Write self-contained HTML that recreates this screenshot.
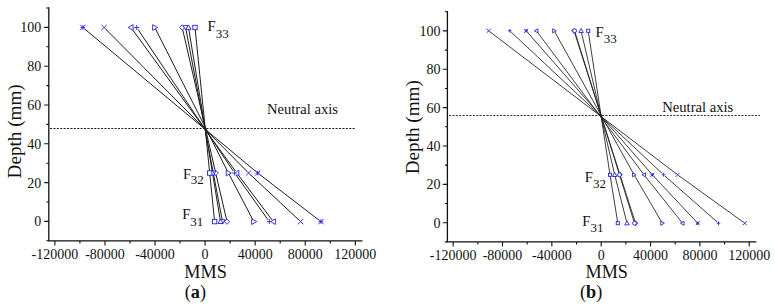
<!DOCTYPE html>
<html><head><meta charset="utf-8"><title>MMS vs Depth</title><style>
html,body{margin:0;padding:0;background:#fff;}
svg{display:block;}
text{font-family:"Liberation Serif",serif;fill:#111;}
.ax{fill:none;stroke:#111;stroke-width:1.3;stroke-linecap:square;}
.tk{fill:none;stroke:#111;stroke-width:1.1;}
.tl{font-size:15px;}
.dl{fill:none;stroke:#1e1e1e;stroke-width:1.0;stroke-linejoin:round;}
.dlb{stroke-width:0.85;}
.m{fill:#fff;stroke:#2323dc;stroke-width:0.9;}
.mb{fill:#fff;}
.ms{stroke-width:0.9;}
.dash{fill:none;stroke:#222;stroke-width:1;stroke-dasharray:2.1 1.3;}
.db{stroke:#333;stroke-width:1;}
.fl{font-size:14.6px;}
.fs{font-size:13px;}
.na{font-size:14.6px;}
.ti{font-size:18.2px;}
.yt{font-size:19.15px;}
</style></head>
<body><svg width="775" height="308" viewBox="0 0 775 308">
<rect width="775" height="308" fill="#fff"/>
<path d="M48.8 7.9V240.9H361.8" class="ax"/>
<path d="M48.8 240.8H46.3M48.8 221.4H44.2M48.8 202H46.3M48.8 182.6H44.2M48.8 163.2H46.3M48.8 143.8H44.2M48.8 124.4H46.3M48.8 105H44.2M48.8 85.6H46.3M48.8 66.2H44.2M48.8 46.8H46.3M48.8 27.4H44.2M48.8 8H46.3M54.89 240.9V245.4M79.92 240.9V243.6M104.96 240.9V245.4M130 240.9V243.6M155.03 240.9V245.4M180.06 240.9V243.6M205.1 240.9V245.4M230.13 240.9V243.6M255.17 240.9V245.4M280.2 240.9V243.6M305.24 240.9V245.4M330.27 240.9V243.6M355.31 240.9V245.4" class="tk"/>
<text x="41.2" y="226.3" class="tl" text-anchor="end" textLength="7" lengthAdjust="spacingAndGlyphs">0</text>
<text x="41.2" y="187.5" class="tl" text-anchor="end" textLength="14" lengthAdjust="spacingAndGlyphs">20</text>
<text x="41.2" y="148.7" class="tl" text-anchor="end" textLength="14" lengthAdjust="spacingAndGlyphs">40</text>
<text x="41.2" y="109.9" class="tl" text-anchor="end" textLength="14" lengthAdjust="spacingAndGlyphs">60</text>
<text x="41.2" y="71.1" class="tl" text-anchor="end" textLength="14" lengthAdjust="spacingAndGlyphs">80</text>
<text x="41.2" y="32.3" class="tl" text-anchor="end" textLength="21" lengthAdjust="spacingAndGlyphs">100</text>
<text x="54.89" y="259" class="tl" text-anchor="middle" textLength="46.6" lengthAdjust="spacingAndGlyphs">-120000</text>
<text x="104.96" y="259" class="tl" text-anchor="middle" textLength="39.6" lengthAdjust="spacingAndGlyphs">-80000</text>
<text x="155.03" y="259" class="tl" text-anchor="middle" textLength="39.6" lengthAdjust="spacingAndGlyphs">-40000</text>
<text x="205.1" y="259" class="tl" text-anchor="middle" textLength="7" lengthAdjust="spacingAndGlyphs">0</text>
<text x="255.17" y="259" class="tl" text-anchor="middle" textLength="35" lengthAdjust="spacingAndGlyphs">40000</text>
<text x="305.24" y="259" class="tl" text-anchor="middle" textLength="35" lengthAdjust="spacingAndGlyphs">80000</text>
<text x="355.31" y="259" class="tl" text-anchor="middle" textLength="42" lengthAdjust="spacingAndGlyphs">120000</text>
<path d="M447.4 11.7V241.9H755.7" class="ax"/>
<path d="M447.4 241.88H444.9M447.4 222.7H442.8M447.4 203.52H444.9M447.4 184.34H442.8M447.4 165.16H444.9M447.4 145.98H442.8M447.4 126.8H444.9M447.4 107.62H442.8M447.4 88.44H444.9M447.4 69.26H442.8M447.4 50.08H444.9M447.4 30.9H442.8M447.4 11.72H444.9M453.15 241.9V246.4M477.83 241.9V244.6M502.5 241.9V246.4M527.18 241.9V244.6M551.85 241.9V246.4M576.53 241.9V244.6M601.2 241.9V246.4M625.88 241.9V244.6M650.55 241.9V246.4M675.23 241.9V244.6M699.9 241.9V246.4M724.58 241.9V244.6M749.25 241.9V246.4" class="tk"/>
<text x="440.6" y="227.6" class="tl" text-anchor="end" textLength="7" lengthAdjust="spacingAndGlyphs">0</text>
<text x="440.6" y="189.24" class="tl" text-anchor="end" textLength="14" lengthAdjust="spacingAndGlyphs">20</text>
<text x="440.6" y="150.88" class="tl" text-anchor="end" textLength="14" lengthAdjust="spacingAndGlyphs">40</text>
<text x="440.6" y="112.52" class="tl" text-anchor="end" textLength="14" lengthAdjust="spacingAndGlyphs">60</text>
<text x="440.6" y="74.16" class="tl" text-anchor="end" textLength="14" lengthAdjust="spacingAndGlyphs">80</text>
<text x="440.6" y="35.8" class="tl" text-anchor="end" textLength="21" lengthAdjust="spacingAndGlyphs">100</text>
<text x="453.15" y="260" class="tl" text-anchor="middle" textLength="46.6" lengthAdjust="spacingAndGlyphs">-120000</text>
<text x="502.5" y="260" class="tl" text-anchor="middle" textLength="39.6" lengthAdjust="spacingAndGlyphs">-80000</text>
<text x="551.85" y="260" class="tl" text-anchor="middle" textLength="39.6" lengthAdjust="spacingAndGlyphs">-40000</text>
<text x="601.2" y="260" class="tl" text-anchor="middle" textLength="7" lengthAdjust="spacingAndGlyphs">0</text>
<text x="650.55" y="260" class="tl" text-anchor="middle" textLength="35" lengthAdjust="spacingAndGlyphs">40000</text>
<text x="699.9" y="260" class="tl" text-anchor="middle" textLength="35" lengthAdjust="spacingAndGlyphs">80000</text>
<text x="749.25" y="260" class="tl" text-anchor="middle" textLength="42" lengthAdjust="spacingAndGlyphs">120000</text>
<path d="M50 128.5H355.2" class="dash"/>
<path d="M449 115.5H760" class="dash db"/>
<path d="M82.9 27.5L257.7 173L320.9 221.6M104.1 27.5L248.6 173L300.6 221.6M131 27.5L236.8 173L273.3 221.6M136.7 27.5L234.6 173L269.3 221.6M154.8 27.5L228.4 173L253.8 221.6M182.2 27.5L215.7 173L227 221.6M185.6 27.5L213.3 173L222.5 221.6M188.5 27.5L212.5 173L220.5 221.6M195 27.5L209.7 173L214.6 221.6" class="dl"/>
<path d="M488.7 30.8L677.6 174.8L744.7 223.2M509.8 30.8L663.6 174.8L718.5 223.2M526.2 30.8L652.3 174.8L697.7 223.2M536.4 30.8L644 174.8L682.5 223.2M554.2 30.8L634.1 174.8L662.3 223.2M574 30.8L620 174.8L635.5 223.2M574.6 30.8L619.5 174.8L634.5 223.2M581.1 30.8L614.7 174.8L627 223.2M588.2 30.8L610 174.8L617.8 223.2" class="dl dlb"/>
<rect x="80.62" y="25.22" width="4.56" height="4.56" class="mb"/><path d="M80.62 27.5H85.18M82.9 25.22V29.78M80.19 24.79L85.61 30.21M80.19 30.21L85.61 24.79" class="m ms"/>
<rect x="255.42" y="170.72" width="4.56" height="4.56" class="mb"/><path d="M255.42 173H259.98M257.7 170.72V175.28M254.99 170.29L260.41 175.71M254.99 175.71L260.41 170.29" class="m ms"/>
<rect x="318.62" y="219.32" width="4.56" height="4.56" class="mb"/><path d="M318.62 221.6H323.18M320.9 219.32V223.88M318.19 218.89L323.61 224.31M318.19 224.31L323.61 218.89" class="m ms"/>
<rect x="101.94" y="25.34" width="4.32" height="4.32" class="mb"/><path d="M101.4 24.8L106.8 30.2M101.4 30.2L106.8 24.8" class="m"/>
<rect x="246.44" y="170.84" width="4.32" height="4.32" class="mb"/><path d="M245.9 170.3L251.3 175.7M245.9 175.7L251.3 170.3" class="m"/>
<rect x="298.44" y="219.44" width="4.32" height="4.32" class="mb"/><path d="M297.9 218.9L303.3 224.3M297.9 224.3L303.3 218.9" class="m"/>
<path d="M128.2 27.5L133.1 24.7L133.1 30.3Z" class="m"/>
<path d="M234 173L238.9 170.2L238.9 175.8Z" class="m"/>
<path d="M270.5 221.6L275.4 218.8L275.4 224.4Z" class="m"/>
<rect x="134.74" y="25.54" width="3.92" height="3.92" class="mb"/><path d="M134.25 27.5H139.15M136.7 25.05V29.95" class="m"/>
<rect x="232.64" y="171.04" width="3.92" height="3.92" class="mb"/><path d="M232.15 173H237.05M234.6 170.55V175.45" class="m"/>
<rect x="267.34" y="219.64" width="3.92" height="3.92" class="mb"/><path d="M266.85 221.6H271.75M269.3 219.15V224.05" class="m"/>
<path d="M157.65 27.5L152.66 24.65L152.66 30.35Z" class="m"/>
<path d="M231.25 173L226.26 170.15L226.26 175.85Z" class="m"/>
<path d="M256.65 221.6L251.66 218.75L251.66 224.45Z" class="m"/>
<path d="M182.2 24.8L184.9 27.5L182.2 30.2L179.5 27.5Z" class="m"/>
<path d="M215.7 170.3L218.4 173L215.7 175.7L213 173Z" class="m"/>
<path d="M227 218.9L229.7 221.6L227 224.3L224.3 221.6Z" class="m"/>
<path d="M185.6 30.05L188.15 25.59L183.05 25.59Z" class="m"/>
<path d="M213.3 175.55L215.85 171.09L210.75 171.09Z" class="m"/>
<path d="M222.5 224.15L225.05 219.69L219.95 219.69Z" class="m"/>
<path d="M188.5 24.95L191.05 29.41L185.95 29.41Z" class="m"/>
<path d="M212.5 170.45L215.05 174.91L209.95 174.91Z" class="m"/>
<path d="M220.5 219.05L223.05 223.51L217.95 223.51Z" class="m"/>
<rect x="192.8" y="25.3" width="4.4" height="4.4" class="m"/>
<rect x="207.5" y="170.8" width="4.4" height="4.4" class="m"/>
<rect x="212.4" y="219.4" width="4.4" height="4.4" class="m"/>
<rect x="487.06" y="29.16" width="3.28" height="3.28" class="mb"/><path d="M486.65 28.75L490.75 32.85M486.65 32.85L490.75 28.75" class="m"/>
<rect x="675.96" y="173.16" width="3.28" height="3.28" class="mb"/><path d="M675.55 172.75L679.65 176.85M675.55 176.85L679.65 172.75" class="m"/>
<rect x="743.06" y="221.56" width="3.28" height="3.28" class="mb"/><path d="M742.65 221.15L746.75 225.25M742.65 225.25L746.75 221.15" class="m"/>
<rect x="508.32" y="29.32" width="2.96" height="2.96" class="mb"/><path d="M507.95 30.8H511.65M509.8 28.95V32.65" class="m"/>
<rect x="662.12" y="173.32" width="2.96" height="2.96" class="mb"/><path d="M661.75 174.8H665.45M663.6 172.95V176.65" class="m"/>
<rect x="717.02" y="221.72" width="2.96" height="2.96" class="mb"/><path d="M716.65 223.2H720.35M718.5 221.35V225.05" class="m"/>
<rect x="524.52" y="29.12" width="3.36" height="3.36" class="mb"/><path d="M524.52 30.8H527.88M526.2 29.12V32.48M524.21 28.8L528.2 32.8M524.21 32.8L528.2 28.8" class="m ms"/>
<rect x="650.62" y="173.12" width="3.36" height="3.36" class="mb"/><path d="M650.62 174.8H653.98M652.3 173.12V176.48M650.3 172.81L654.29 176.8M650.3 176.8L654.29 172.81" class="m ms"/>
<rect x="696.02" y="221.52" width="3.36" height="3.36" class="mb"/><path d="M696.02 223.2H699.38M697.7 221.52V224.88M695.71 221.2L699.7 225.19M695.71 225.19L699.7 221.2" class="m ms"/>
<path d="M534.35 30.8L537.94 28.75L537.94 32.85Z" class="m"/>
<path d="M641.95 174.8L645.54 172.75L645.54 176.85Z" class="m"/>
<path d="M680.45 223.2L684.04 221.15L684.04 225.25Z" class="m"/>
<path d="M556.25 30.8L552.66 28.75L552.66 32.85Z" class="m"/>
<path d="M636.15 174.8L632.56 172.75L632.56 176.85Z" class="m"/>
<path d="M664.35 223.2L660.76 221.15L660.76 225.25Z" class="m"/>
<path d="M574 28.45L576.35 30.8L574 33.15L571.65 30.8Z" class="m"/>
<path d="M620 172.45L622.35 174.8L620 177.15L617.65 174.8Z" class="m"/>
<path d="M635.5 220.85L637.85 223.2L635.5 225.55L633.15 223.2Z" class="m"/>
<circle cx="574.6" cy="30.8" r="1.95" class="m"/>
<circle cx="619.5" cy="174.8" r="1.95" class="m"/>
<circle cx="634.5" cy="223.2" r="1.95" class="m"/>
<path d="M581.1 28.55L583.35 32.49L578.85 32.49Z" class="m"/>
<path d="M614.7 172.55L616.95 176.49L612.45 176.49Z" class="m"/>
<path d="M627 220.95L629.25 224.89L624.75 224.89Z" class="m"/>
<rect x="586.65" y="29.25" width="3.1" height="3.1" class="m"/>
<rect x="608.45" y="173.25" width="3.1" height="3.1" class="m"/>
<rect x="616.25" y="221.65" width="3.1" height="3.1" class="m"/>
<text x="207.4" y="30.7" class="fl">F</text><text x="215.8" y="37.8" class="fs">33</text>
<text x="183" y="178.5" class="fl">F</text><text x="190.8" y="184.3" class="fs">32</text>
<text x="182.2" y="219" class="fl">F</text><text x="190.3" y="225.8" class="fs">31</text>
<text x="595.5" y="37" class="fl">F</text><text x="603.7" y="43.1" class="fs">33</text>
<text x="584.8" y="181.6" class="fl">F</text><text x="593" y="187.8" class="fs">32</text>
<text x="582.3" y="226.4" class="fl">F</text><text x="590.6" y="232.3" class="fs">31</text>
<text x="267" y="114.1" class="na">Neutral axis</text>
<text x="662.3" y="111.5" class="na">Neutral axis</text>
<text x="184.3" y="277.9" class="ti">MMS</text>
<text x="585.5" y="278.4" class="ti">MMS</text>
<text x="184.8" y="297.6" class="ti">(<tspan font-weight="bold">a</tspan>)</text>
<text x="580" y="297.6" class="ti">(<tspan font-weight="bold">b</tspan>)</text>
<text transform="translate(21 178.4) rotate(-90)" class="yt">Depth (mm)</text>
<text transform="translate(418.5 174.2) rotate(-90)" class="yt">Depth (mm)</text>
</svg></body></html>
